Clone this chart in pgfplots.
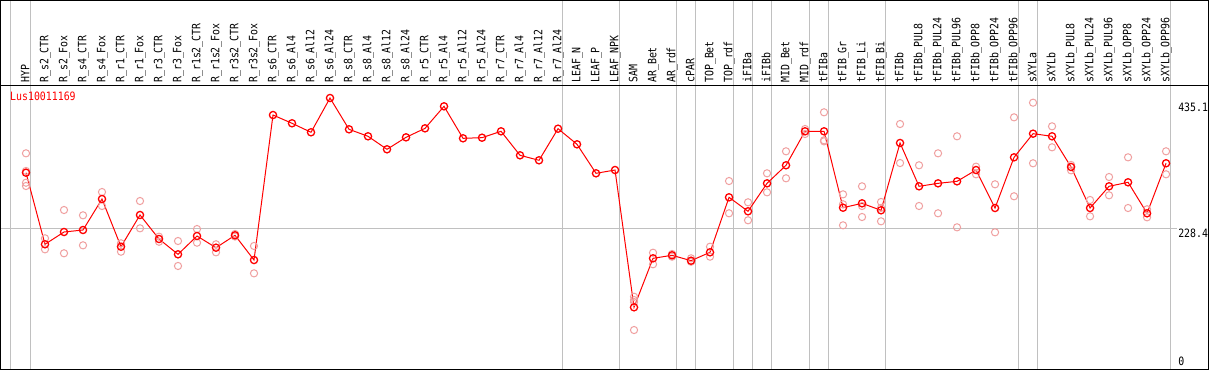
\documentclass[border=0pt]{standalone}
\usepackage{fontspec}
\usepackage{pgfplots}
\usepackage{pgfplotstable}
\pgfplotsset{compat=1.18}
\newfontfamily\mono[FakeStretch=0.86]{DejaVu Sans Mono}
\newcommand\lblfont{\mono\fontsize{11.5bp}{12bp}\selectfont}
\definecolor{sep}{HTML}{C0C0C0}
\definecolor{rep}{HTML}{F0A0A0}

\pgfplotstableread{
x y
0 319.9
1 202.1
2 222.3
3 225.6
4 276.6
5 198.1
6 250.3
7 210.8
8 185.6
9 215.7
10 196.5
11 216.9
12 176.2
13 414.8
14 401.2
15 386.4
16 442.8
17 391.3
18 379.8
19 358.4
20 378.1
21 392.9
22 429.1
23 376.5
24 377.5
25 388.0
26 348.5
27 340.3
28 392.3
29 366.6
30 318.9
31 324.3
32 98.4
33 179.0
34 184.0
35 175.1
36 188.9
37 279.4
38 256.4
39 302.4
40 332.1
41 388.0
42 388.0
43 262.3
44 269.5
45 258.0
46 368.8
47 297.5
48 302.4
49 305.7
50 324.3
51 261.8
52 345.2
53 384.1
54 379.8
55 329.3
56 261.8
57 297.5
58 304.1
59 253.1
60 335.4
}\meantable

\pgfplotstableread{
x y
0 351.8
0 322.7
0 303.4
0 298.0
1 211.9
1 193.8
2 258.5
2 187.3
3 249.8
3 200.4
4 288.1
4 265.1
5 203.7
5 189.9
6 273.3
6 228.4
7 214.6
7 206.3
8 207.5
8 166.4
9 227.2
9 204.7
10 202.1
10 188.9
11 219.0
11 214.9
12 199.3
12 154.3
32 115.8
32 110.4
32 107.1
32 61.0
33 188.2
33 169.2
34 186.1
34 181.7
35 179.0
35 173.4
36 198.1
36 181.7
37 306.2
37 253.1
38 271.2
38 241.6
39 318.9
39 287.6
40 355.1
40 310.7
41 391.8
41 383.6
42 419.3
42 373.2
42 371.5
43 284.3
43 267.9
43 233.3
44 297.5
44 265.1
44 247.0
45 271.7
45 239.9
45 262.0
46 400.0
46 335.8
47 332.1
47 265.1
48 351.8
48 253.1
49 379.8
49 230.0
50 329.8
50 317.3
51 300.8
51 221.8
52 411.0
52 281.1
53 435.1
53 335.4
54 396.2
54 361.7
55 332.6
55 323.8
56 275.0
56 248.1
57 312.8
57 282.7
58 345.2
58 261.8
59 259.7
59 246.5
60 355.1
60 317.3
}\reptable

\begin{document}
\begin{tikzpicture}
\useasboundingbox (0,0) rectangle (1209bp,370bp);
\fill[white] (0,0) rectangle (1209bp,370bp);
\begin{axis}[at={(0bp,1bp)}, anchor=south west, scale only axis,
 width=1170bp, height=284bp,
 xmin=-1.36842, xmax=60.2105, ymin=-3.127, ymax=464.21,
 clip=false, axis line style={draw=none}, major tick length=0pt,
 xtick={0,...,60}, xticklabel pos=upper,
 xticklabels={HYP,R\_s2\_CTR,R\_s2\_Fox,R\_s4\_CTR,R\_s4\_Fox,R\_r1\_CTR,R\_r1\_Fox,R\_r3\_CTR,R\_r3\_Fox,R\_r1s2\_CTR,R\_r1s2\_Fox,R\_r3s2\_CTR,R\_r3s2\_Fox,R\_s6\_CTR,R\_s6\_Al4,R\_s6\_Al12,R\_s6\_Al24,R\_s8\_CTR,R\_s8\_Al4,R\_s8\_Al12,R\_s8\_Al24,R\_r5\_CTR,R\_r5\_Al4,R\_r5\_Al12,R\_r5\_Al24,R\_r7\_CTR,R\_r7\_Al4,R\_r7\_Al12,R\_r7\_Al24,LEAF\_N,LEAF\_P,LEAF\_NPK,SAM,AR\_Bet,AR\_rdf,cPAR,TOP\_Bet,TOP\_rdf,iFIBa,iFIBb,MID\_Bet,MID\_rdf,tFIBa,tFIB\_Gr,tFIB\_Li,tFIB\_Bi,tFIBb,tFIBb\_PUL8,tFIBb\_PUL24,tFIBb\_PUL96,tFIBb\_OPP8,tFIBb\_OPP24,tFIBb\_OPP96,sXYLa,sXYLb,sXYLb\_PUL8,sXYLb\_PUL24,sXYLb\_PUL96,sXYLb\_OPP8,sXYLb\_OPP24,sXYLb\_OPP96},
 xticklabel style={font=\lblfont, xshift=3.3bp, yshift=2bp, rotate=90, anchor=base west, inner sep=0pt},
 ytick=\empty]
\pgfplotsinvokeforeach{-0.84,0.25,28.25,31.25,34.25,35.25,37.25,38.25,39.25,41.25,42.25,45.25,52.25,53.25,60.25}{
 \draw[sep, line width=1bp] (axis cs:#1,-3.127) -- ([yshift=369bp]axis cs:#1,-3.127);
}
\draw[sep, line width=1bp] (axis cs:-1.36842,228.4) -- (axis cs:60.58,228.4);
\addplot[only marks, mark=o, mark size=3.6bp, rep, mark options={line width=1bp}] table {\reptable};
\addplot[red, line width=1bp, mark=o, mark size=3.6bp, mark options={solid, line width=1.3bp}] table {\meantable};
\node[font=\lblfont, anchor=north west, inner sep=0pt, xshift=8bp] at (axis cs:60.2105,435.1) {435.1};
\node[font=\lblfont, anchor=north west, inner sep=0pt, xshift=8bp] at (axis cs:60.2105,228.4) {228.4};
\node[font=\lblfont, anchor=south west, inner sep=0pt, xshift=8bp, yshift=1.2bp] at (axis cs:60.2105,0) {0};
\end{axis}
\node[font=\lblfont, text=red, anchor=west, inner sep=0pt] at (10bp,273.3bp) {Lus10011169};
\draw[line width=1bp] (0.5bp,0.5bp) rectangle (1208.5bp,369.5bp);
\draw[line width=1bp] (0bp,284.5bp) -- (1209bp,284.5bp);
\end{tikzpicture}
\end{document}
